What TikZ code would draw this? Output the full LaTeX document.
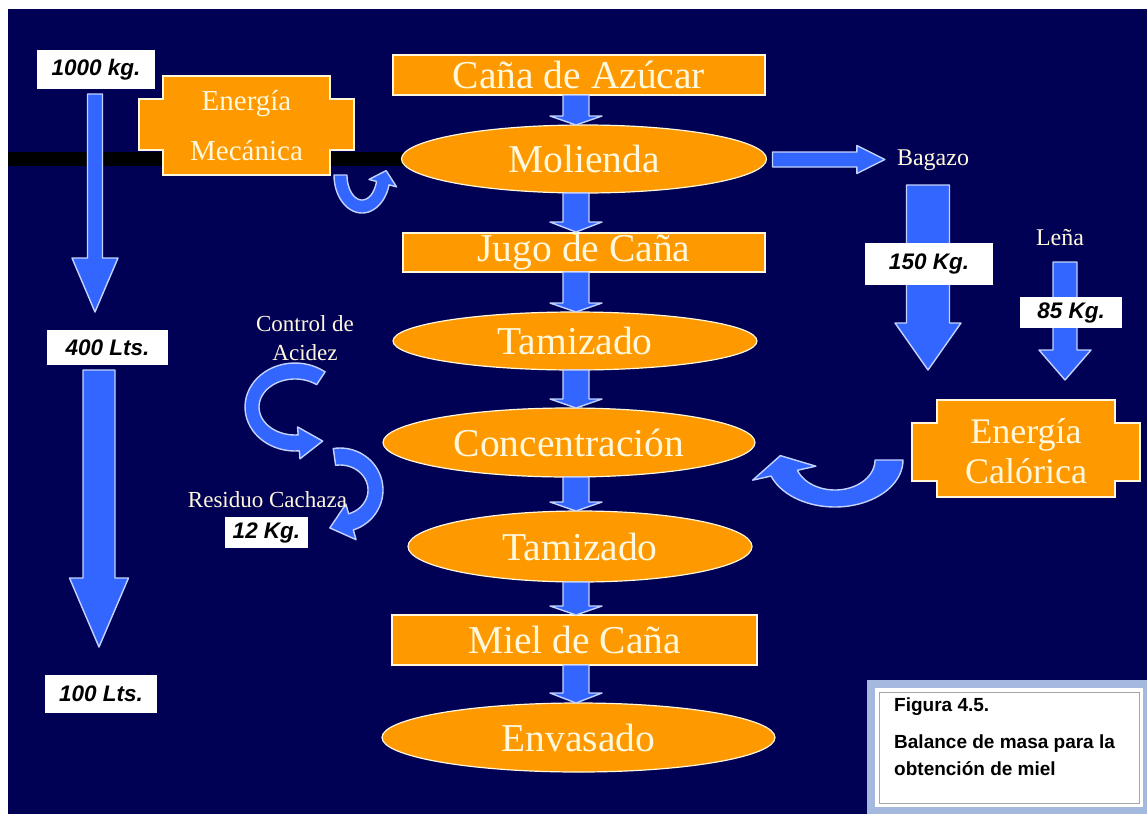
\documentclass[tikz,border=0pt]{standalone}
\usepackage{fontspec}
\setmainfont{Liberation Serif}
\newfontfamily\lsans{Liberation Sans}
\usetikzlibrary{shapes.geometric,calc}

\definecolor{bgnavy}{RGB}{0,0,85}
\definecolor{cane}{RGB}{255,153,0}
\definecolor{cream}{RGB}{255,248,220}
\definecolor{flow}{RGB}{51,102,255}
\definecolor{flowedge}{RGB}{195,210,255}
\definecolor{capframe}{RGB}{165,185,222}

\tikzset{
  stage/.style={fill=cane, draw=cream, line width=1.2pt, inner sep=0pt, outer sep=0pt,
    text=cream, font=\fontsize{39.5}{41}\selectfont},
  boxstage/.style={stage, rectangle},
  ovalstage/.style={stage, ellipse},
  tag/.style={fill=white, inner sep=0pt, outer sep=0pt, text=black,
    font=\lsans\bfseries\itshape\fontsize{22.5}{24}\selectfont},
  note/.style={text=cream, inner sep=0pt, align=center, font=\fontsize{23}{29}\selectfont},
  blk/.style={fill=flow, draw=flowedge, line width=1.4pt, line join=round},
  plaque/.style={fill=cane, draw=cream, line width=1.2pt, line join=miter},
}

% straight block arrow pointing down: top point, tip point, shaft half-width, head half-width, head length
\newcommand\downblock[5]{%
  \filldraw[blk] let \p1=#1, \p2=#2 in
    (\x1-#3,\y1) -- (\x1+#3,\y1) -- (\x1+#3,\y2+#5) -- (\x1+#4,\y2+#5) -- (\x1,\y2)
    -- (\x1-#4,\y2+#5) -- (\x1-#3,\y2+#5) -- cycle;}

% straight block arrow pointing right: tail point, tip point, shaft half-width, head half-width, head length
\newcommand\rightblock[5]{%
  \filldraw[blk] let \p1=#1, \p2=#2 in
    (\x1,\y1+#3) -- (\x2-#5,\y1+#3) -- (\x2-#5,\y1+#4) -- (\x2,\y1) -- (\x2-#5,\y1-#4)
    -- (\x2-#5,\y1-#3) -- (\x1,\y1-#3) -- cycle;}

% curved block arrow along an elliptic band:
% centre x, centre y, outer radii, inner radii, start angle, end angle, head turn (+90/-90)
% head spread \hk and head length \hl are set before each use
\newcommand\bendarrow[9]{%
  \coordinate (bo) at ({#1+#3*cos(#8)},{#2+#4*sin(#8)});
  \coordinate (bi) at ({#1+#5*cos(#8)},{#2+#6*sin(#8)});
  \coordinate (bm) at ($(bo)!0.5!(bi)$);
  \filldraw[blk] plot[domain=#7:#8, samples=40, variable=\t] ({#1+#3*cos(\t)},{#2+#4*sin(\t)})
    -- ($(bo)!-\hk!(bi)$) -- ($(bm)!\hl!#9:(bo)$) -- ($(bi)!-\hk!(bo)$)
    -- plot[domain=#8:#7, samples=40, variable=\t] ({#1+#5*cos(\t)},{#2+#6*sin(\t)}) -- cycle;}

% cross-shaped panel around an (invisible) named node: node, tab width, top inset, bottom inset
\newcommand\panel[4]{%
  \filldraw[plaque] let \p1=(#1.north west), \p2=(#1.south east) in
    (\x1,\y1) -- (\x2,\y1) -- (\x2,\y1-#3) -- (\x2+#2,\y1-#3) -- (\x2+#2,\y2+#4) -- (\x2,\y2+#4)
    -- (\x2,\y2) -- (\x1,\y2) -- (\x1,\y2+#4) -- (\x1-#2,\y2+#4) -- (\x1-#2,\y1-#3) -- (\x1,\y1-#3) -- cycle;}

\begin{document}
\begin{tikzpicture}[x=1pt,y=-1pt]
\useasboundingbox (0,0) rectangle (1147,814);
\fill[white] (0,0) rectangle (1147,814);
\fill[bgnavy] (8,9) rectangle (1147,814);
\fill[black] (8,152) rectangle (405,166);

% main process column
\coordinate (axis) at (576,0);
\node[boxstage, minimum width=372pt, minimum height=40pt] (cana) at (579,75) {Caña de Azúcar};
\node[ovalstage, minimum width=365pt, minimum height=68pt] (mol) at (584,159) {Molienda};
\node[boxstage, minimum width=362pt, minimum height=39pt] (jugo) at (584,252.5) {Jugo de Caña};
\node[ovalstage, minimum width=364pt, minimum height=58pt] (tam1) at (575,341) {Tamizado};
\node[ovalstage, minimum width=372pt, minimum height=69pt] (conc) at (569,442.5) {Concentración};
\node[ovalstage, minimum width=344pt, minimum height=71pt] (tam2) at (580,546.5) {Tamizado};
\node[boxstage, minimum width=365pt, minimum height=50pt] (miel) at (574.5,640) {Miel de Caña};
\node[ovalstage, minimum width=393pt, minimum height=69pt] (env) at (578.5,737.5) {Envasado};

\downblock{(axis |- cana.south)}{(axis |- mol.north)}{13pt}{26pt}{9pt}
\downblock{(axis |- mol.south)}{($(axis |- jugo.north)+(0,-1)$)}{13pt}{26pt}{10pt}
\downblock{(axis |- jugo.south)}{(axis |- tam1.north)}{13pt}{26pt}{9pt}
\downblock{(axis |- tam1.south)}{(axis |- conc.north)}{13pt}{26pt}{9pt}
\downblock{(axis |- conc.south)}{(axis |- tam2.north)}{13pt}{26pt}{9pt}
\downblock{(axis |- tam2.south)}{(axis |- miel.north)}{13pt}{26pt}{9pt}
\downblock{(axis |- miel.south)}{(axis |- env.north)}{13pt}{26pt}{10pt}

% mechanical energy input
\node[minimum width=167pt, minimum height=99pt, inner sep=0pt, outer sep=0pt] (emec) at (246.5,125.5) {};
\panel{emec}{24pt}{23pt}{25pt}
\node[note, font=\fontsize{29}{50}\selectfont] at (emec.center) {Energía\\Mecánica};
\def\hk{0.6}\def\hl{13pt}
\bendarrow{362}{175}{28}{38}{15}{25}{180}{15}{90}

% bagasse and firewood feeding the heat source
\node[note, font=\fontsize{24}{28}\selectfont] (bag) at (933,160) {Bagazo};
\rightblock{($(mol.east)+(6,0.5)$)}{($(bag.west)+(-12,0.5)$)}{7.5pt}{14pt}{28pt}
\node[minimum width=178pt, minimum height=97pt, inner sep=0pt, outer sep=0pt] (ecal) at (1026,448.5) {};
\panel{ecal}{25pt}{23pt}{16pt}
\node[note, font=\fontsize{36}{40}\selectfont] at ($(ecal.center)+(0,3)$) {Energía\\Calórica};
\node[note, font=\fontsize{24}{28}\selectfont] (lena) at (1060,238) {Leña};
\coordinate (kg150c) at (929,264);
\coordinate (kg85c) at (1071,312.5);
\downblock{($(kg150c)+(-1,-79)$)}{($(ecal.north)+(0,-30)$)}{21.5pt}{33pt}{47pt}
\downblock{($(kg85c)+(-6,-50.5)$)}{($(ecal.north)+(0,-20)$)}{12pt}{26pt}{30pt}
\node[tag, minimum width=128pt, minimum height=42pt] (kg150) at (kg150c) {150 Kg.};
\node[tag, minimum width=102pt, minimum height=31pt] (kg85) at (kg85c) {85 Kg.};
\def\hk{0.7}\def\hl{18pt}
\bendarrow{835}{460}{68}{47}{40}{30}{0}{160}{-90}

% acidity control and filter-cake residue
\node[note] (acid) at (305,338) {Control de\\Acidez};
\def\hk{0.5}\def\hl{24pt}
\bendarrow{295}{407}{50}{44}{36}{28}{-53}{-275}{90}
\def\hk{0.6}\def\hl{22pt}
\bendarrow{340}{490}{43}{42}{28}{25}{-99}{72}{-90}
\node[note] (resid) at (267.5,500) {Residuo Cachaza};
\node[tag, minimum width=83pt, minimum height=31pt] (kg12) at (266.5,532.5) {12 Kg.};

% volume balance along the left side
\node[tag, minimum width=118pt, minimum height=39pt] (kg1000) at (96,69.5) {1000 kg.};
\node[tag, minimum width=121pt, minimum height=35pt] (lts400) at (107.5,347.5) {400 Lts.};
\node[tag, minimum width=112pt, minimum height=38pt] (lts100) at (101,694) {100 Lts.};
\downblock{($(kg1000.south)+(-1,5)$)}{($(lts400.north)+(0,-18)$)}{7.5pt}{23pt}{54pt}
\downblock{($(lts400.south)+(-8.5,5)$)}{($(lts100.north)+(0,-28)$)}{16pt}{29.5pt}{69pt}

% caption panel
\fill[capframe] (867,680) rectangle (1147,814);
\node[fill=white, minimum width=268pt, minimum height=119pt, inner sep=0pt, outer sep=0pt] (cap) at (1009,747.5) {};
\draw[black!35, line width=1pt] ($(cap.north west)+(4,4)$) rectangle ($(cap.south east)+(-4,-4)$);
\node[anchor=north west, inner sep=0pt, align=left, text=black,
  font=\lsans\bfseries\fontsize{19}{27}\selectfont] at ($(cap.north west)+(19,10)$)
  {Figura 4.5.\\[10pt]Balance de masa para la\\obtención de miel};
\end{tikzpicture}
\end{document}
